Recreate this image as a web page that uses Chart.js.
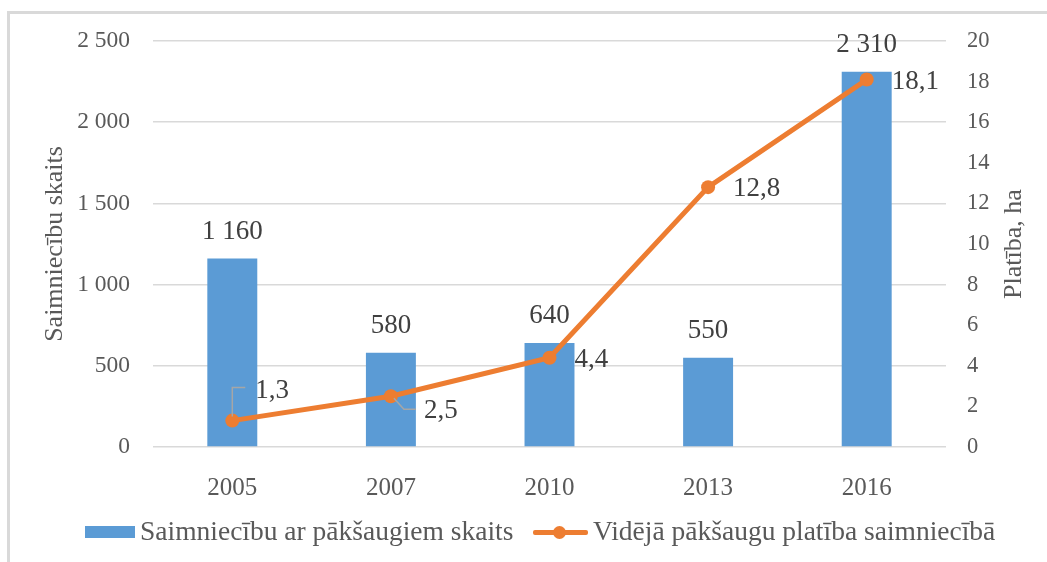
<!DOCTYPE html>
<html>
<head>
<meta charset="utf-8">
<script src="https://cdn.jsdelivr.net/npm/chart.js@4/dist/chart.umd.min.js"></script>
<style>
  body { margin: 0; background: #fff; }
  #wrap { position: relative; width: 1047px; height: 562px; overflow: hidden; }
  #frame { position: absolute; left: 7px; top: 11px; right: -10px; bottom: -10px;
           border-top: 3px solid #d9d9d9; border-left: 3px solid #d9d9d9; }
  #chart { position: absolute; left: 0; top: 0; }
  .lg { position: absolute; font-family: "Liberation Serif", "Times New Roman", serif;
        font-size: 27.5px; color: #595959; line-height: 30px; top: 516px; white-space: nowrap; }
  .box { position: absolute; left: 85px; top: 526px; width: 50px; height: 12px; background: #5B9BD5; }
  .ln { position: absolute; left: 533px; top: 530px; width: 55px; height: 5px; background: #ED7D31; border-radius: 2px; }
  .dot { position: absolute; left: 553px; top: 526px; width: 13px; height: 13px; background: #ED7D31; border-radius: 50%; }
</style>
</head>
<body>
<div id="wrap">
  <div id="frame"></div>
  <canvas id="chart" width="1047" height="562"></canvas>
  <div class="box"></div>
  <div class="lg" style="left:140px">Saimniecību ar pākšaugiem skaits</div>
  <div class="ln"></div>
  <div class="dot"></div>
  <div class="lg" style="left:593px">Vidējā pākšaugu platība saimniecībā</div>
</div>
<script>
// Data
const years = ['2005', '2007', '2010', '2013', '2016'];
const farmCount = [1160, 580, 640, 550, 2310];
const avgArea = [1.3, 2.5, 4.4, 12.8, 18.1];
const countTicks = [0, 500, 1000, 1500, 2000, 2500];
const areaTicks = [0, 2, 4, 6, 8, 10, 12, 14, 16, 18, 20];

const SERIF = '"Liberation Serif", "Times New Roman", serif';
const BLUE = '#5B9BD5';
const ORANGE = '#ED7D31';

const fmtInt = v => String(v).replace(/\B(?=(\d{3})+(?!\d))/g, ' ');
const fmtDec = v => v.toFixed(1).replace('.', ',');

// data labels + axis titles
const labelsPlugin = {
  id: 'labels',
  afterDatasetsDraw(chart) {
    const ctx = chart.ctx;
    ctx.save();
    ctx.fillStyle = '#404040';
    ctx.font = '27px ' + SERIF;
    ctx.textBaseline = 'middle';

    // bar values
    ctx.textAlign = 'center';
    chart.getDatasetMeta(0).data.forEach((el, i) => {
      ctx.fillText(fmtInt(farmCount[i]), el.x, el.y - 27);
    });

    // line values, right of the points
    const pts = chart.getDatasetMeta(1).data;
    ctx.textAlign = 'left';
    pts.forEach((el, i) => {
      let dx = 25, dy = 2;
      if (i === 0) { dx = 23; dy = -30; }
      if (i === 1) { dx = 33; dy = 15; }
      ctx.fillText(fmtDec(avgArea[i]), el.x + dx, el.y + dy);
    });

    // leader lines
    ctx.strokeStyle = '#a6a6a6';
    ctx.lineWidth = 1.5;
    let p = pts[0];
    ctx.beginPath();
    ctx.moveTo(p.x, p.y - 4);
    ctx.lineTo(p.x, p.y - 33);
    ctx.lineTo(p.x + 13, p.y - 33);
    ctx.stroke();
    p = pts[1];
    ctx.beginPath();
    ctx.moveTo(p.x + 3, p.y + 2);
    ctx.lineTo(p.x + 13, p.y + 13);
    ctx.lineTo(p.x + 25, p.y + 13);
    ctx.stroke();

    // axis titles
    const a = chart.chartArea;
    const midY = (a.top + a.bottom) / 2;
    ctx.fillStyle = '#595959';
    ctx.font = '26px ' + SERIF;
    ctx.textAlign = 'center';
    ctx.translate(55, midY);
    ctx.rotate(-Math.PI / 2);
    ctx.fillText('Saimniecību skaits', 0, 0);
    ctx.setTransform(1, 0, 0, 1, 0, 0);
    ctx.translate(1014, midY);
    ctx.rotate(-Math.PI / 2);
    ctx.fillText('Platība, ha', 0, 0);
    ctx.restore();
  }
};

new Chart(document.getElementById('chart'), {
  data: {
    labels: years,
    datasets: [
      {
        type: 'bar',
        label: 'Saimniecību ar pākšaugiem skaits',
        data: farmCount,
        backgroundColor: BLUE,
        yAxisID: 'y',
        barPercentage: 0.315,
        categoryPercentage: 1,
        order: 2
      },
      {
        type: 'line',
        label: 'Vidējā pākšaugu platība saimniecībā',
        data: avgArea,
        borderColor: ORANGE,
        backgroundColor: ORANGE,
        borderWidth: 5,
        pointRadius: 7,
        pointBackgroundColor: ORANGE,
        pointBorderWidth: 0,
        tension: 0,
        yAxisID: 'y1',
        order: 1
      }
    ]
  },
  options: {
    responsive: false,
    animation: false,
    layout: { padding: { top: 41, left: 0, right: 0, bottom: 0 } },
    plugins: { legend: { display: false }, tooltip: { enabled: false } },
    scales: {
      x: {
        grid: { display: false },
        border: { display: false },
        ticks: { color: '#595959', font: { family: SERIF, size: 25 }, padding: 18 },
        afterFit: s => { s.height = 115; }
      },
      y: {
        position: 'left',
        min: 0, max: 2500,
        afterBuildTicks: s => { s.ticks = countTicks.map(v => ({ value: v })); },
        grid: { color: '#d9d9d9', lineWidth: 1.5, drawTicks: false },
        border: { display: false },
        ticks: { color: '#595959', font: { family: SERIF, size: 23.5 }, padding: 23, callback: v => fmtInt(v) },
        afterFit: s => { s.width = 153; }
      },
      y1: {
        position: 'right',
        min: 0, max: 20,
        afterBuildTicks: s => { s.ticks = areaTicks.map(v => ({ value: v })); },
        grid: { display: false, drawTicks: false },
        border: { display: false },
        ticks: { color: '#595959', font: { family: SERIF, size: 22.5 }, padding: 21 },
        afterFit: s => { s.width = 101; }
      }
    }
  },
  plugins: [labelsPlugin]
});
</script>
</body>
</html>
